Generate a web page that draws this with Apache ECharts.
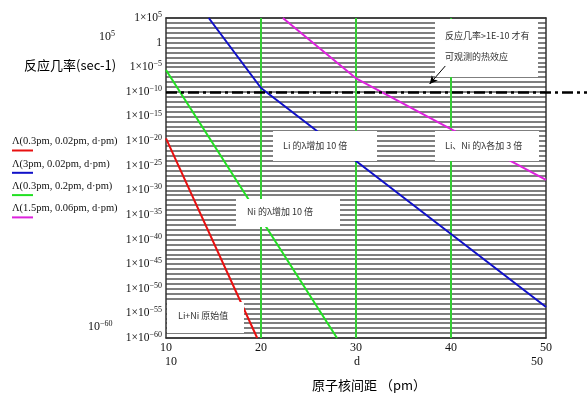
<!DOCTYPE html>
<html>
<head>
<meta charset="utf-8">
<style>
  html, body { margin: 0; padding: 0; background: #fff; }
  #chart { width: 588px; height: 398px; }
  #err { position: absolute; left: 0; top: 0; font: 10px monospace; color: #c00; }
</style>
<script src="https://cdn.jsdelivr.net/npm/echarts@6.0.0/dist/echarts.min.js"></script>
</head>
<body>
<div id="chart"></div>
<div id="err"></div>
<script>
// 反应几率 vs 原子核间距 (Mathcad plot)
const lambdaNames = ['Λ(0.3pm, 0.02pm, d·pm)', 'Λ(3pm, 0.02pm, d·pm)', 'Λ(0.3pm, 0.2pm, d·pm)', 'Λ(1.5pm, 0.06pm, d·pm)'];
const lineColors = ['#e81010', '#1010c8', '#22e022', '#dd22dd'];

// d in pm, rate in sec-1
const redD = [10, 19.6];
const redRate = [3.5e-20, 1e-60];
const blueD = [14.5, 20, 50];
const blueRate = [1e5, 6e-10, 2e-54];
const greenD = [10, 28];
const greenRate = [2.7e-6, 1e-60];
const magentaD = [22.3, 30, 50];
const magentaRate = [1e5, 5.6e-8, 1.3e-28];

const threshold = 1e-10;
const xTicks = [10, 20, 30, 40, 50];
const yMin = 1e-60;
const yMax = 1e5;

// arrow from the note down to the threshold line
const arrowD = [39.4, 37.75];
const arrowRate = [1.8e-5, 3.9e-9];

const notes = ['反应几率>1E-10 才有\n可观测的热效应', 'Li 的λ增加 10 倍', 'Li、Ni 的λ各加 3 倍', 'Ni 的λ增加 10 倍', 'Li+Ni 原始值'];

// the y axis is drawn on log10 of the rate, one grid line per decade
function zip(xs, ys) {
    return xs.map(function (x, i) { return [x, Math.log10(ys[i])]; });
}

let chart = echarts.init(document.getElementById('chart'));

const serif = 'Liberation Serif';
const cjk = 'Noto Sans CJK SC';

// boxes: [left, top, width, height, text x, text center y]
const noteBoxes = [
    [435, 19, 103, 58, 445, 46],
    [273, 131, 104, 30, 283, 146],
    [435, 131, 104, 30, 445, 146],
    [236, 199, 104, 28, 247, 212],
    [167, 302, 77, 31, 178, 316],
];

let graphics = [];

noteBoxes.forEach(function (b, i) {
    graphics.push({
        type: 'rect',
        z: 50,
        shape: { x: b[0], y: b[1], width: b[2], height: b[3] },
        style: { fill: '#fff' },
    });
    graphics.push({
        type: 'text',
        z: 51,
        x: b[4],
        y: b[5],
        style: {
            text: notes[i],
            font: '9px "' + cjk + '"',
            fill: '#333',
            verticalAlign: 'middle',
            lineHeight: 21,
        },
    });
});

// legend, Mathcad style: name over a short coloured line
lambdaNames.forEach(function (name, i) {
    let y = 141.5 + i * 22.3;
    graphics.push({
        type: 'text',
        x: 12,
        y: y,
        style: {
            text: name,
            font: '10.5px "' + serif + '"',
            fill: '#111',
            verticalAlign: 'middle',
        },
    });
    graphics.push({
        type: 'line',
        shape: { x1: 12, y1: y + 9, x2: 33, y2: y + 9 },
        style: { stroke: lineColors[i], lineWidth: 2 },
    });
});

const supRich = { sup: { fontSize: 8, fontFamily: serif, verticalAlign: 'top', padding: [0, 0, 6, 0] } };

graphics.push(
    {
        type: 'text',
        x: 24,
        y: 65,
        style: {
            text: '反应几率(sec-1)',
            font: '13px "' + cjk + '"',
            fill: '#000',
            verticalAlign: 'middle',
        },
    },
    {
        type: 'text',
        x: 99,
        y: 30,
        style: { text: '10{sup|5}', font: '12px "' + serif + '"', fill: '#111', rich: supRich },
    },
    {
        type: 'text',
        x: 88,
        y: 320,
        style: { text: '10{sup|−60}', font: '12px "' + serif + '"', fill: '#111', rich: supRich },
    },
    {
        type: 'text',
        x: 171,
        y: 362,
        style: { text: String(xTicks[0]), font: '12px "' + serif + '"', fill: '#111', align: 'center', verticalAlign: 'middle' },
    },
    {
        type: 'text',
        x: 357,
        y: 362,
        style: { text: 'd', font: '12px "' + serif + '"', fill: '#111', align: 'center', verticalAlign: 'middle' },
    },
    {
        type: 'text',
        x: 537,
        y: 362,
        style: { text: String(xTicks[xTicks.length - 1]), font: '12px "' + serif + '"', fill: '#111', align: 'center', verticalAlign: 'middle' },
    },
    {
        type: 'text',
        x: 312,
        y: 385,
        style: { text: '原子核间距 （pm）', font: '13px "' + cjk + '"', fill: '#000', verticalAlign: 'middle' },
    }
);

function supLabel(e) {
    e = Math.round(e);
    if (e % 5 !== 0) return '';
    if (e === 0) return '1';
    return '1×10{sup|' + (e < 0 ? '−' + (-e) : e) + '}';
}

let lineSeries = function (name, data, color, width) {
    return {
        name: name,
        type: 'line',
        data: data,
        showSymbol: false,
        clip: false,
        silent: true,
        z: 3,
        lineStyle: { color: color, width: width || 2 },
        itemStyle: { color: color },
    };
};

// green vertical grid lines first, so the curves go over them
let series = xTicks.slice(1, -1).map(function (x) {
    let s = lineSeries('grid ' + x, zip([x, x], [yMin, yMax]), '#33cc33', 2);
    s.z = 2;
    return s;
});

series.push(
    lineSeries(lambdaNames[0], zip(redD, redRate), lineColors[0]),
    lineSeries(lambdaNames[1], zip(blueD, blueRate), lineColors[1]),
    lineSeries(lambdaNames[2], zip(greenD, greenRate), lineColors[2]),
    lineSeries(lambdaNames[3], zip(magentaD, magentaRate), lineColors[3])
);

const arrowPts = zip(arrowD, arrowRate);

// threshold line runs past the right edge of the plot
series[series.length - 4].markLine = {
    silent: true,
    animation: false,
    symbol: 'none',
    label: { show: false },
    emphasis: { disabled: true },
    data: [
        [
            { coord: [xTicks[0], Math.log10(threshold)], lineStyle: { color: '#000', width: 2.5, type: [11, 4, 3, 4] } },
            { x: 587, yAxis: Math.log10(threshold) },
        ],
    ],
};

// the note's arrow sits above the white boxes
series.push({
    name: 'arrow',
    type: 'line',
    data: [],
    z: 60,
    silent: true,
    markLine: {
        z: 60,
        silent: true,
        animation: false,
        label: { show: false },
        emphasis: { disabled: true },
        symbol: ['none', 'arrow'],
        symbolSize: [6, 8],
        lineStyle: { color: '#000', width: 1, type: 'solid' },
        data: [[{ coord: arrowPts[0] }, { coord: arrowPts[1] }]],
    },
});

let option = {
    animation: false,
    backgroundColor: '#fff',
    grid: { left: 166, top: 18, width: 380, height: 320 },
    xAxis: [
        {
            type: 'value',
            min: xTicks[0],
            max: xTicks[xTicks.length - 1],
            interval: 10,
            position: 'bottom',
            axisLine: { show: true, onZero: false, lineStyle: { color: '#333', width: 1.5 } },
            axisTick: { show: false },
            axisLabel: { color: '#111', fontFamily: serif, fontSize: 12, margin: 4 },
            splitLine: { show: false },
        },
        {
            type: 'value',
            min: xTicks[0],
            max: xTicks[xTicks.length - 1],
            position: 'top',
            axisLine: { show: true, onZero: false, lineStyle: { color: '#333', width: 1.5 } },
            axisTick: { show: false },
            axisLabel: { show: false },
            splitLine: { show: false },
        },
    ],
    yAxis: [
        {
            type: 'value',
            min: Math.log10(yMin),
            max: Math.log10(yMax),
            interval: 1,
            axisLine: { show: true, onZero: false, lineStyle: { color: '#333', width: 1.5 } },
            axisTick: { show: false },
            axisLabel: {
                margin: 4,
                color: '#111',
                fontFamily: serif,
                fontSize: 11.5,
                formatter: supLabel,
                rich: supRich,
            },
            splitLine: { show: true, lineStyle: { color: '#555', width: 1.5 } },
        },
        {
            type: 'value',
            min: 0,
            max: 1,
            position: 'right',
            axisLine: { show: true, onZero: false, lineStyle: { color: '#333', width: 1.5 } },
            axisTick: { show: false },
            axisLabel: { show: false },
            splitLine: { show: false },
        },
    ],
    graphic: graphics,
    series: series,
};

try {
    chart.setOption(option);
} catch (e) {
    document.getElementById('err').textContent = e.message;
}
</script>
</body>
</html>
